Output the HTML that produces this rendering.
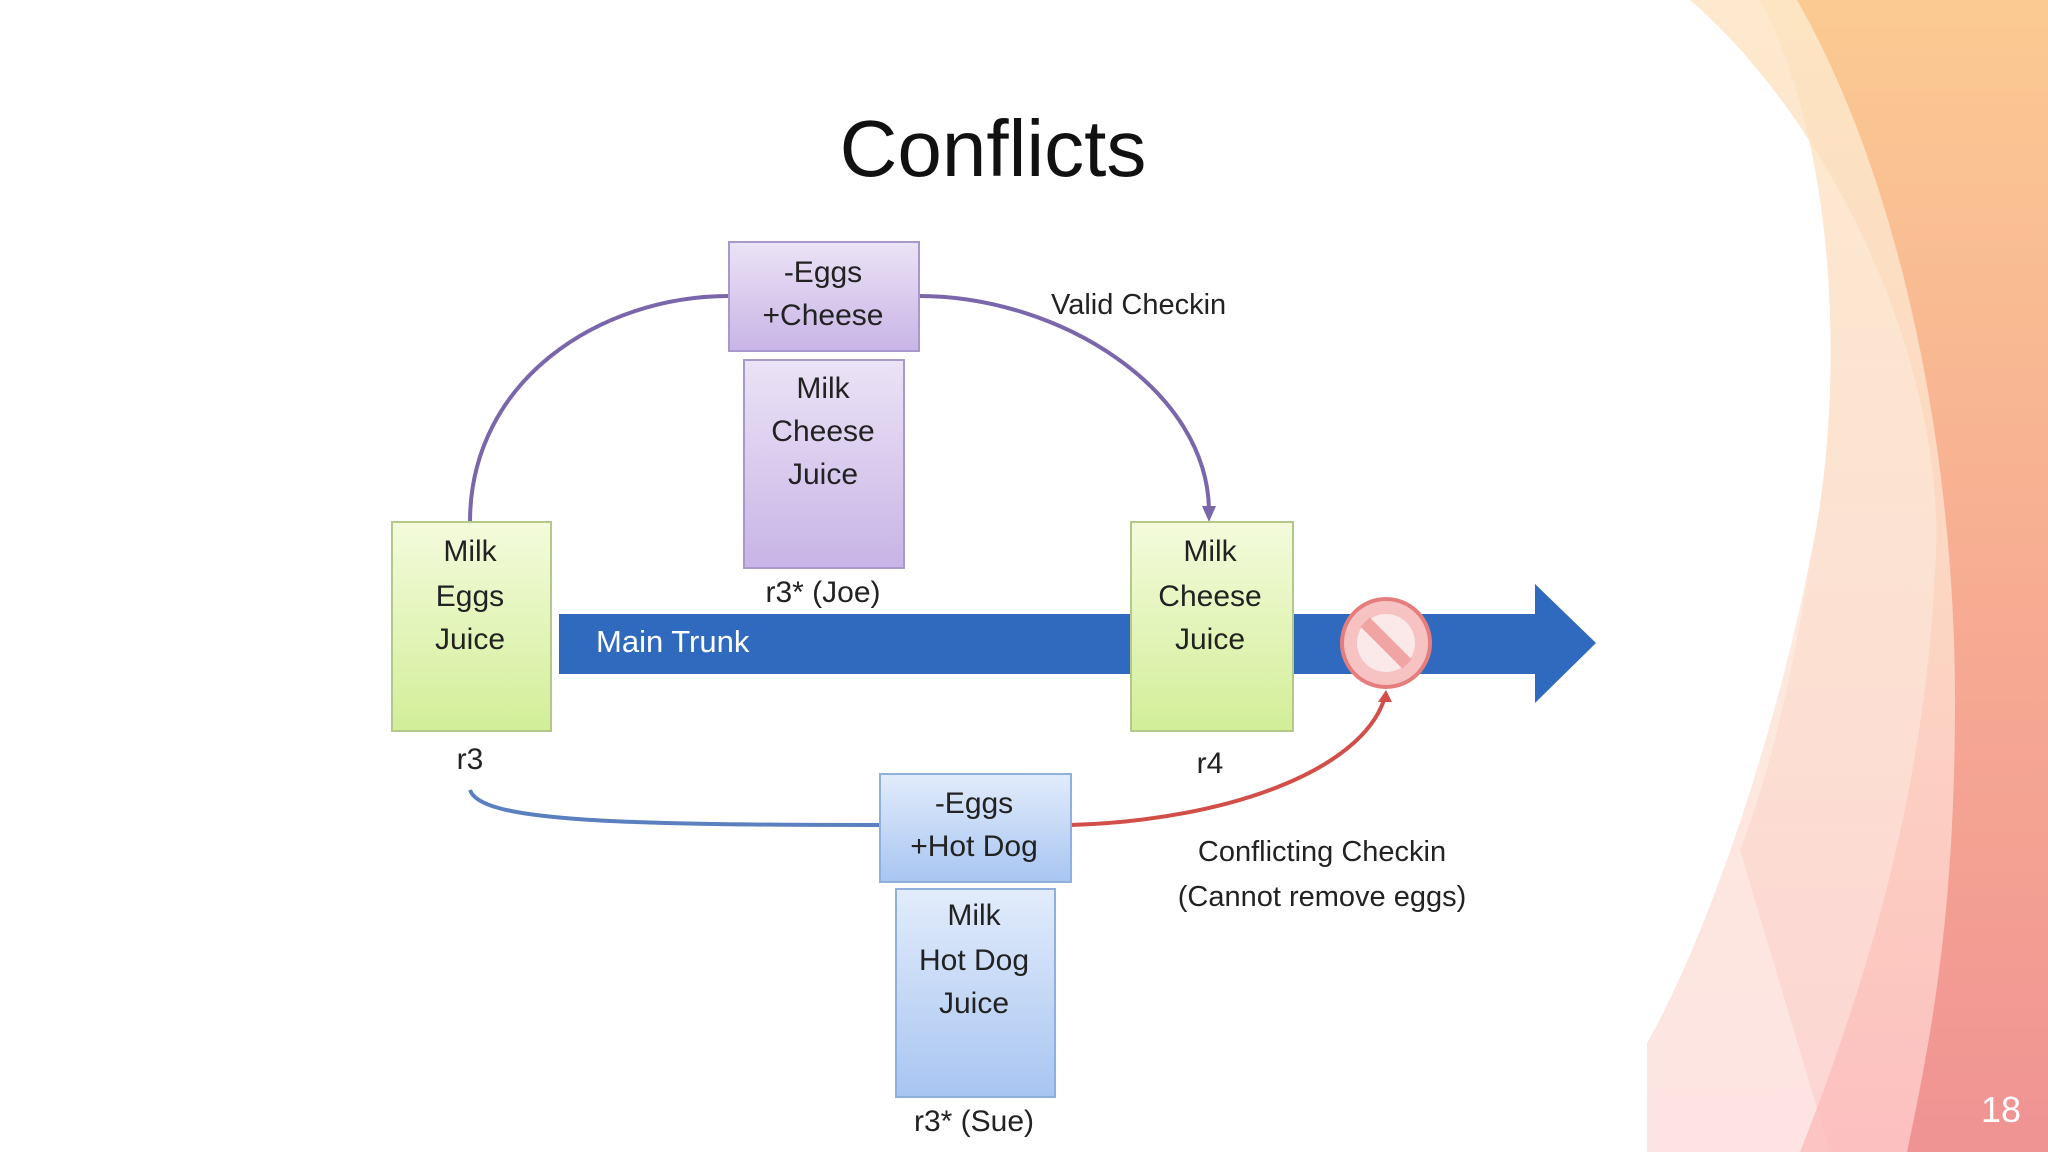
<!DOCTYPE html>
<html><head><meta charset="utf-8"><style>
html,body{margin:0;padding:0;background:#fff;}
svg{display:block;font-family:"Liberation Sans",sans-serif;}
</style></head><body>
<svg width="2048" height="1152" viewBox="0 0 2048 1152" xmlns="http://www.w3.org/2000/svg">
<defs>
<linearGradient id="og" x1="0" y1="0" x2="0" y2="1"><stop offset="0" stop-color="#fbca92"/><stop offset="0.5" stop-color="#f7ad92"/><stop offset="1" stop-color="#f09393"/></linearGradient>
<linearGradient id="ag" x1="0" y1="0" x2="0" y2="1"><stop offset="0" stop-color="#fde2bd"/><stop offset="0.5" stop-color="#fbd3bd"/><stop offset="1" stop-color="#fbb9b9"/></linearGradient>
<linearGradient id="bg2" x1="0" y1="0" x2="0" y2="1"><stop offset="0" stop-color="#fdefd8"/><stop offset="1" stop-color="#fde4e2"/></linearGradient>
<linearGradient id="pg" x1="0" y1="0" x2="0" y2="1"><stop offset="0" stop-color="#ebe3f6"/><stop offset="1" stop-color="#c8b4e6"/></linearGradient>
<linearGradient id="gg" x1="0" y1="0" x2="0" y2="1"><stop offset="0" stop-color="#f4fbdc"/><stop offset="1" stop-color="#d2ee98"/></linearGradient>
<linearGradient id="blg" x1="0" y1="0" x2="0" y2="1"><stop offset="0" stop-color="#e2ecfb"/><stop offset="1" stop-color="#a8c5f2"/></linearGradient>
<linearGradient id="cv" x1="0" y1="0" x2="1" y2="0"><stop offset="0" stop-color="#4f7fc4"/><stop offset="0.5" stop-color="#6b6fa8"/><stop offset="1" stop-color="#d0504a"/></linearGradient>
</defs>
<!-- background decoration -->
<path d="M1760,0 C1840,150 1845,400 1810,560 C1770,760 1700,950 1647,1043 L1647,1152 L2048,1152 L2048,0Z" fill="url(#bg2)"/>
<path d="M1690,0 C1840,130 1950,380 1935,570 C1925,800 1860,1000 1800,1152 L2048,1152 L2048,0Z" fill="url(#ag)" opacity="0.75"/>
<path d="M1760,0 C1840,150 1845,400 1810,560 C1790,700 1760,800 1740,850 L1830,1152 L2048,1152 L2048,0Z" fill="url(#ag)" opacity="0.35"/>
<path d="M1797,0 C1900,180 1955,450 1955,700 C1955,900 1935,1020 1907,1152 L2048,1152 L2048,0Z" fill="url(#og)"/>
<text x="2001" y="1122" font-size="36" fill="#fff" text-anchor="middle">18</text>

<!-- title -->
<text x="993" y="176" font-size="80" fill="#111" text-anchor="middle">Conflicts</text>

<!-- main trunk -->
<polygon points="559,614 1535,614 1535,584 1596,643 1535,703 1535,674 559,674" fill="#2f6abf"/>
<text x="596" y="652" font-size="31" fill="#fff">Main Trunk</text>

<!-- purple curves -->
<path d="M470,522 C470,380 600,296 729,296" fill="none" stroke="#7a66aa" stroke-width="4"/>
<path d="M919,296 C1060,296 1209,390 1209,512" fill="none" stroke="#7a66aa" stroke-width="4"/>
<polygon points="1202,506 1216,506 1209,522" fill="#7a66aa"/>
<text x="1051" y="314" font-size="29" fill="#222">Valid Checkin</text>

<!-- lower curves -->
<path d="M470,790 C480,820 600,825 880,825" fill="none" stroke="#5a80bf" stroke-width="4"/>
<path d="M1071,825 C1230,820 1360,770 1384,700" fill="none" stroke="#d24e48" stroke-width="4"/>
<polygon points="1378,702 1392,702 1386,690" fill="#d24e48"/>

<!-- no sign -->
<circle cx="1386" cy="643" r="44" fill="#f6c2c2" stroke="#e67d7d" stroke-width="4"/>
<circle cx="1386" cy="643" r="29" fill="#fbe9e9"/>
<line x1="1365" y1="622" x2="1407" y2="664" stroke="#f0a4a4" stroke-width="13"/>

<!-- purple boxes -->
<rect x="729" y="242" width="190" height="109" fill="url(#pg)" stroke="#a898cc" stroke-width="2"/>
<text x="823" y="282" font-size="30" fill="#222" text-anchor="middle">-Eggs</text>
<text x="823" y="325" font-size="30" fill="#222" text-anchor="middle">+Cheese</text>
<rect x="744" y="360" width="160" height="208" fill="url(#pg)" stroke="#a898cc" stroke-width="2"/>
<text x="823" y="398" font-size="30" fill="#222" text-anchor="middle">Milk</text>
<text x="823" y="441" font-size="30" fill="#222" text-anchor="middle">Cheese</text>
<text x="823" y="484" font-size="30" fill="#222" text-anchor="middle">Juice</text>
<text x="823" y="602" font-size="30" fill="#222" text-anchor="middle">r3* (Joe)</text>

<!-- green boxes -->
<rect x="392" y="522" width="159" height="209" fill="url(#gg)" stroke="#b3c98c" stroke-width="2"/>
<text x="470" y="561" font-size="30" fill="#222" text-anchor="middle">Milk</text>
<text x="470" y="606" font-size="30" fill="#222" text-anchor="middle">Eggs</text>
<text x="470" y="649" font-size="30" fill="#222" text-anchor="middle">Juice</text>
<text x="470" y="769" font-size="30" fill="#222" text-anchor="middle">r3</text>
<rect x="1131" y="522" width="162" height="209" fill="url(#gg)" stroke="#b3c98c" stroke-width="2"/>
<text x="1210" y="561" font-size="30" fill="#222" text-anchor="middle">Milk</text>
<text x="1210" y="606" font-size="30" fill="#222" text-anchor="middle">Cheese</text>
<text x="1210" y="649" font-size="30" fill="#222" text-anchor="middle">Juice</text>
<text x="1210" y="773" font-size="30" fill="#222" text-anchor="middle">r4</text>

<!-- blue boxes -->
<rect x="880" y="774" width="191" height="108" fill="url(#blg)" stroke="#8fafdc" stroke-width="2"/>
<text x="974" y="813" font-size="30" fill="#222" text-anchor="middle">-Eggs</text>
<text x="974" y="856" font-size="30" fill="#222" text-anchor="middle">+Hot Dog</text>
<rect x="896" y="889" width="159" height="208" fill="url(#blg)" stroke="#8fafdc" stroke-width="2"/>
<text x="974" y="925" font-size="30" fill="#222" text-anchor="middle">Milk</text>
<text x="974" y="970" font-size="30" fill="#222" text-anchor="middle">Hot Dog</text>
<text x="974" y="1013" font-size="30" fill="#222" text-anchor="middle">Juice</text>
<text x="974" y="1131" font-size="30" fill="#222" text-anchor="middle">r3* (Sue)</text>

<text x="1322" y="861" font-size="29" fill="#222" text-anchor="middle">Conflicting Checkin</text>
<text x="1322" y="906" font-size="29" fill="#222" text-anchor="middle">(Cannot remove eggs)</text>
</svg>
</body></html>
